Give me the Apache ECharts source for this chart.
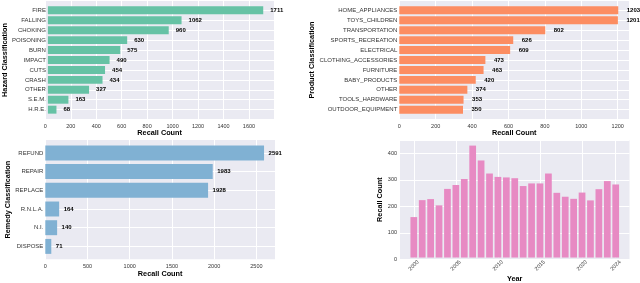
<!DOCTYPE html>
<html><head><meta charset="utf-8">
<script src="https://cdn.jsdelivr.net/npm/echarts@6/dist/echarts.min.js"></script>
<style>html,body{margin:0;padding:0;background:#fff}#c{width:640px;height:283px}</style>
</head><body><div id="c"></div>
<script>
const hazardCats = ['FIRE','FALLING','CHOKING','POISONING','BURN','IMPACT','CUTS','CRASH','OTHER','S.E.M.','H.R.E.'];
const hazardVals = [1711,1062,960,630,575,490,454,434,327,163,68];
const productCats = ['HOME_APPLIANCES','TOYS_CHILDREN','TRANSPORTATION','SPORTS_RECREATION','ELECTRICAL','CLOTHING_ACCESSORIES','FURNITURE','BABY_PRODUCTS','OTHER','TOOLS_HARDWARE','OUTDOOR_EQUIPMENT'];
const productVals = [1203,1201,802,626,609,473,463,420,374,353,350];
const remedyCats = ['REFUND','REPAIR','REPLACE','R.N.L.A.','N.I.','DISPOSE'];
const remedyVals = [2591,1983,1928,164,140,71];
const years = ['2000','2001','2002','2003','2004','2005','2006','2007','2008','2009','2010','2011','2012','2013','2014','2015','2016','2017','2018','2019','2020','2021','2022','2023','2024'];
const yearVals = [155,220,224,200,263,278,301,429,372,322,309,307,304,274,284,284,322,248,233,225,249,219,262,293,280];
const yearTicks = ['2000','2005','2010','2015','2020','2024'];

const FONT = '"Liberation Sans", Arial, sans-serif';
const BG = '#EAEAF2';
const TICK = '#333333';
const plain = v => String(v);
const grid = [], xAxis = [], yAxis = [], series = [];

function hPanel(rect, cats, vals, color, yName, yGap, interval, labelDist) {
  const n = cats.length;
  const H = rect.bottom - rect.top;
  const s = H / ((n - 0.2) * 1.1);
  const m = 0.05 * (n - 0.2);
  const M = Math.max(...vals) * 1.05;
  const gb = grid.length;
  grid.push({left: rect.left, top: rect.top, width: rect.right - rect.left, height: H,
    show: true, backgroundColor: BG, borderWidth: 0, containLabel: false});
  const gf = grid.length;
  grid.push({left: rect.left, top: rect.top + (m - 0.1) * s, width: rect.right - rect.left, height: n * s, containLabel: false});
  xAxis.push({gridIndex: gb, type: 'value', min: 0, max: M, interval: interval,
    axisLine: {show: false}, axisTick: {show: false},
    splitLine: {show: true, lineStyle: {color: '#ffffff', width: 1}},
    axisLabel: {fontSize: 5.5, color: TICK, margin: 4, fontFamily: FONT, showMaxLabel: false, formatter: plain},
    name: 'Recall Count', nameLocation: 'middle', nameGap: 10.5,
    nameTextStyle: {fontSize: 7.3, fontWeight: 'bold', color: '#000', fontFamily: FONT}});
  yAxis.push({gridIndex: gb, type: 'value', show: false});
  const xf = xAxis.length;
  xAxis.push({gridIndex: gf, type: 'value', min: 0, max: M, show: false});
  const yf = yAxis.length;
  yAxis.push({gridIndex: gf, type: 'category', data: cats, inverse: true,
    axisLine: {show: false}, axisTick: {show: false},
    splitLine: {show: true, alignWithLabel: true, lineStyle: {color: '#ffffff', width: 1}},
    axisLabel: {fontSize: 6, color: TICK, margin: 2, fontFamily: FONT},
    name: yName, nameLocation: 'middle', nameGap: yGap,
    nameTextStyle: {fontSize: 7.3, fontWeight: 'bold', color: '#000', fontFamily: FONT}});
  series.push({type: 'bar', xAxisIndex: xf, yAxisIndex: yf, data: vals, barWidth: '80%',
    itemStyle: {color: color}, silent: true, animation: false,
    label: {show: true, position: 'right', distance: labelDist, fontSize: 6, fontWeight: 'bold', color: '#000', fontFamily: FONT}});
}

hPanel({left: 45.3, top: 1, right: 274, bottom: 119}, hazardCats, hazardVals, '#66c2a5', 'Hazard Classification', 36, 200, 7);
hPanel({left: 399.3, top: 1, right: 629.2, bottom: 119}, productCats, productVals, '#fc8d62', 'Product Classification', 81, 200, 8.5);
hPanel({left: 45.3, top: 140, right: 275, bottom: 259.3}, remedyCats, remedyVals, '#80b1d3', 'Remedy Classification', 32, 500, 4.5);

(function vPanel() {
  const rect = {left: 400, top: 140, right: 629.5, bottom: 259.3};
  const n = years.length;
  const W = rect.right - rect.left;
  const s = W / ((n - 0.2) * 1.1);
  const m = 0.05 * (n - 0.2);
  const M = Math.max(...yearVals) * 1.05;
  const H = rect.bottom - rect.top;
  const gb = grid.length;
  grid.push({left: rect.left, top: rect.top, width: W, height: H, show: true, backgroundColor: BG, borderWidth: 0});
  const gf = grid.length;
  grid.push({left: rect.left + (m - 0.1) * s, top: rect.top, width: n * s, height: H});
  xAxis.push({gridIndex: gb, type: 'value', show: false});
  yAxis.push({gridIndex: gb, type: 'value', min: 0, max: M, interval: 100,
    axisLine: {show: false}, axisTick: {show: false},
    splitLine: {show: true, lineStyle: {color: '#ffffff', width: 1}},
    axisLabel: {fontSize: 5.5, color: TICK, margin: 3, fontFamily: FONT, showMaxLabel: false, formatter: plain},
    name: 'Recall Count', nameLocation: 'middle', nameGap: 15,
    nameTextStyle: {fontSize: 7.3, fontWeight: 'bold', color: '#000', fontFamily: FONT}});
  const isTick = (i, v) => yearTicks.includes(String(v));
  const xf = xAxis.length;
  xAxis.push({gridIndex: gf, type: 'category', data: years,
    axisLine: {show: false}, axisTick: {show: false},
    splitLine: {show: true, alignWithLabel: true, interval: isTick, lineStyle: {color: '#ffffff', width: 1}},
    axisLabel: {interval: isTick, rotate: 45, align: 'center', verticalAlign: 'middle', margin: 8,
      fontSize: 5.5, color: TICK, fontFamily: FONT},
    name: 'Year', nameLocation: 'middle', nameGap: 16,
    nameTextStyle: {fontSize: 7.3, fontWeight: 'bold', color: '#000', fontFamily: FONT}});
  const yf = yAxis.length;
  yAxis.push({gridIndex: gf, type: 'value', min: 0, max: M, show: false});
  series.push({type: 'bar', xAxisIndex: xf, yAxisIndex: yf, data: yearVals, barWidth: '80%',
    itemStyle: {color: '#e78ac3'}, silent: true, animation: false});
})();

const chart = echarts.init(document.getElementById('c'), null, {renderer: 'canvas'});
chart.setOption({animation: false, textStyle: {fontFamily: FONT}, grid, xAxis, yAxis, series});
</script></body></html>
